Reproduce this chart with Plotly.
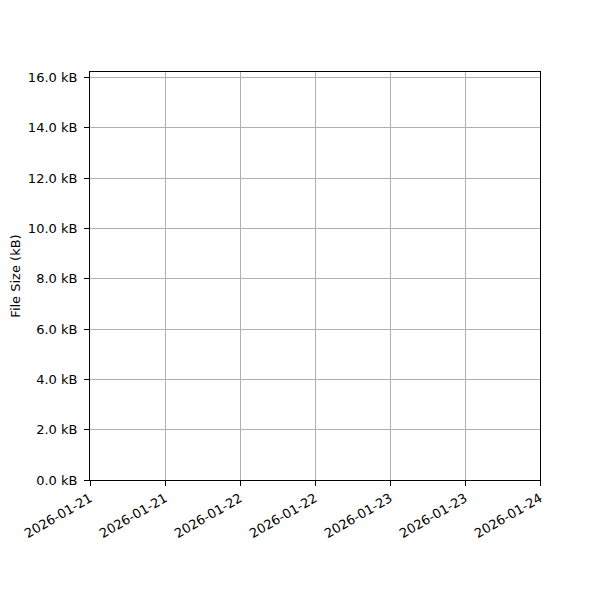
import plotly.graph_objects as go

# no data points in the reference: the series is empty
timestamps = []
file_sizes_kb = []

x_ticks = [
    "2026-01-21 00:00", "2026-01-21 12:00", "2026-01-22 00:00",
    "2026-01-22 12:00", "2026-01-23 00:00", "2026-01-23 12:00",
    "2026-01-24 00:00",
]
x_tick_labels = [
    "2026-01-21", "2026-01-21", "2026-01-22", "2026-01-22",
    "2026-01-23", "2026-01-23", "2026-01-24",
]
y_ticks = [0, 2, 4, 6, 8, 10, 12, 14, 16]
y_max = 16.22

fig = go.Figure()
fig.add_trace(
    go.Scatter(
        x=timestamps,
        y=file_sizes_kb,
        mode="lines+markers",
        line=dict(color="#1f77b4"),
        showlegend=False,
    )
)

axis_common = dict(
    showline=True,
    linecolor="black",
    linewidth=1,
    mirror=True,
    ticks="outside",
    ticklen=5,
    tickwidth=1,
    tickcolor="black",
    showgrid=True,
    gridcolor="#b0b0b0",
    gridwidth=1,
    zeroline=False,
    automargin=False,
    tickfont=dict(size=13, color="black"),
)

fig.update_xaxes(
    type="date",
    range=[x_ticks[0], x_ticks[-1]],
    tickmode="array",
    tickvals=x_ticks,
    ticktext=x_tick_labels,
    tickangle=-30,
    **axis_common,
)
fig.update_yaxes(
    range=[0, y_max],
    tickmode="array",
    tickvals=y_ticks,
    ticktext=[f"{v:.1f} kB" for v in y_ticks],
    ticklabelstandoff=4,
    title=dict(text="File Size (kB)", font=dict(size=13, color="black")),
    **axis_common,
)

fig.update_layout(
    width=600,
    height=600,
    margin=dict(l=82, r=68, t=64, b=128),
    paper_bgcolor="white",
    plot_bgcolor="white",
    font=dict(family="DejaVu Sans", size=13, color="black"),
)

fig.write_html("out.html")
